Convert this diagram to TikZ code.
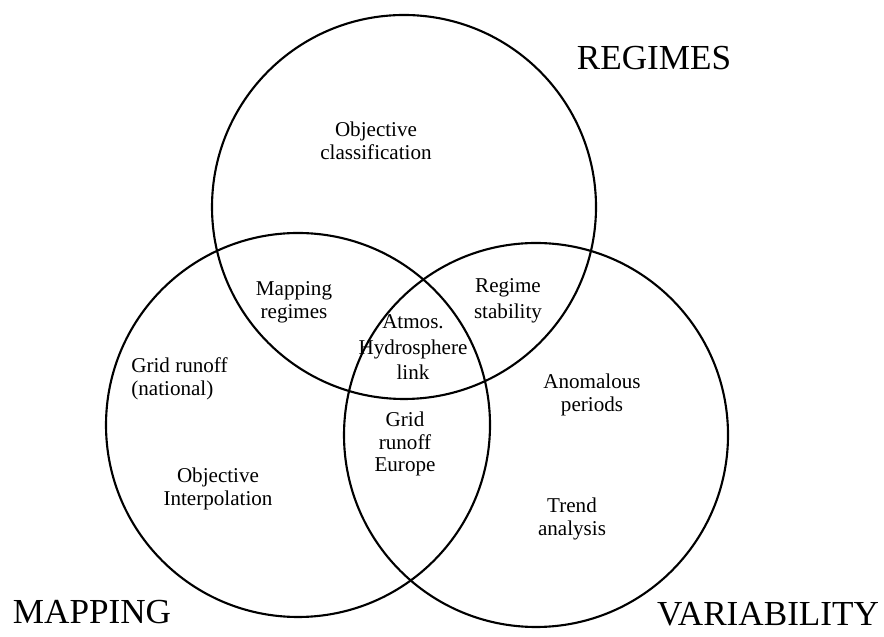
\documentclass[tikz,border=0pt]{standalone}
\usepackage{fontspec}
\setmainfont{Liberation Serif}
\usepackage{tikz}
\tikzset{
    venn circle/.style={line width=1.2pt},     % the three sets
    area text/.style={align=center, inner sep=0pt,
            font=\fontsize{12}{13}\selectfont},  % text inside the circles
    set title/.style={inner sep=0pt, font=\fontsize{20}{22}\selectfont}
}
\begin{document}
\begin{tikzpicture}
            \useasboundingbox (0, 0) rectangle (17.68, 12.74);
            % draw the three overlapping sets
            \draw [venn circle] (8.08, 8.60) circle (3.84);
            \draw [venn circle] (5.96, 4.24) circle (3.84);
            \draw [venn circle] (10.72, 4.04) circle (3.84);
            \node (regimes) at (13.08, 11.58) [set title] {REGIMES};
            \node (mapping) at (1.84, 0.50) [set title] {MAPPING};
            \node (variability) at (15.36, 0.46) [set title] {VARIABILITY};
            \node (classif) at (7.52, 9.92) [area text] {Objective\\classification};
            \node (mapreg) at (5.88, 6.70) [area text] {Mapping\\regimes};
            \node (stability) at (10.16, 6.72) [area text] {Regime\\[2pt]stability};
            \node (atmos) at (8.26, 5.80) [area text] {Atmos.\\[2pt]Hydrosphere\\[1pt]link};
            \node (national) at (2.62, 5.16) [area text, anchor=west, align=left] {Grid runoff\\(national)};
            \node (interp) at (4.36, 2.96) [area text] {Objective\\Interpolation};
            \node (europe) at (8.10, 3.86) [area text] {Grid\\runoff\\Europe};
            \node (anomal) at (11.84, 4.84) [area text] {Anomalous\\periods};
            \node (trend) at (11.44, 2.36) [area text] {Trend\\analysis};
        \end{tikzpicture}
\end{document}
